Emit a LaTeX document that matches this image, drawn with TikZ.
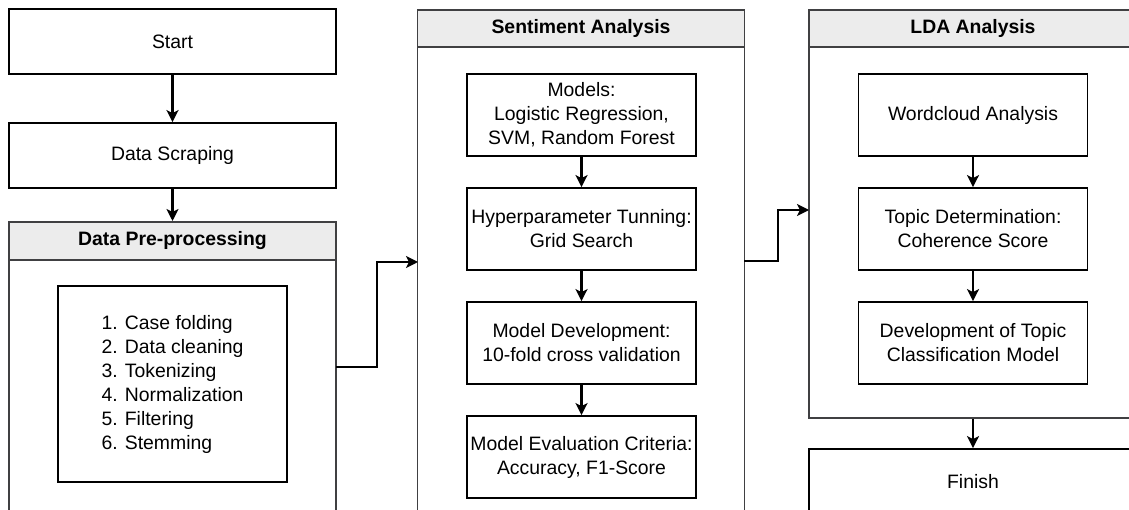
\documentclass[tikz,border=0pt]{standalone}
\usepackage{fontspec}
\setmainfont{Liberation Sans}
\usetikzlibrary{arrows.meta, positioning}

\definecolor{laneline}{RGB}{64,64,66}
\definecolor{headgray}{RGB}{236,236,236}

\begin{document}
\begin{tikzpicture}[x=1pt, y=-1pt, node distance=30.2pt,
  every node/.style={font=\fontsize{19.4}{24}\selectfont},
  stepbox/.style={draw=black, line width=1.8pt, minimum width=229pt, minimum height=82pt, align=center, inner sep=1pt},
  widebox/.style={draw=black, line width=1.8pt, minimum width=327pt, minimum height=65pt},
  lane/.style={draw=laneline, line width=1.8pt, minimum width=327pt, anchor=north},
  lanehead/.style={draw=laneline, fill=headgray, line width=1.8pt, minimum width=327pt, minimum height=37pt, anchor=north, font=\fontsize{19.4}{24}\selectfont\bfseries},
  flow/.style={-{Stealth[length=12pt, width=12pt, inset=3pt]}, line width=2.2pt}]
  \useasboundingbox (0,0) rectangle (1129,510);
  \clip (0,0) rectangle (1129,510);
  % left column
  \node[widebox] (start) at (172.5,41.5) {Start};
  \node[widebox] (scrap) at (172.5,155.5) {Data Scraping};
  \node[lane, minimum height=330pt] (prelane) at (172.5,221) {};
  \node[lanehead, minimum height=38pt] (prehead) at (prelane.north) {Data Pre-processing};
  \node[draw=black, line width=1.8pt, minimum width=229pt, minimum height=196pt, align=left] (steps) at (172.5,384)
    {1. Case folding\\2. Data cleaning\\3. Tokenizing\\4. Normalization\\5. Filtering\\6. Stemming};
  % sentiment lane
  \node[lane, minimum height=520pt] (sentlane) at (581,9) {};
  \node[lanehead] (senthead) at (sentlane.north) {Sentiment Analysis};
  \node[stepbox] (models) at (581.5,115) {Models:\\Logistic Regression,\\SVM, Random Forest};
  \node[stepbox, below=of models] (hyper) {Hyperparameter Tunning:\\Grid Search};
  \node[stepbox, below=of hyper] (modeldev) {Model Development:\\10-fold cross validation};
  \node[stepbox, below=of modeldev] (modeleval) {Model Evaluation Criteria:\\Accuracy, F1-Score};
  % LDA lane
  \node[lane, minimum height=408pt, minimum width=328pt] (ldalane) at (973,9) {};
  \node[lanehead, minimum width=328pt] (ldahead) at (ldalane.north) {LDA Analysis};
  \node[stepbox] (wordcloud) at (973,115) {Wordcloud Analysis};
  \node[stepbox, below=of wordcloud] (topicdet) {Topic Determination:\\Coherence Score};
  \node[stepbox, below=of topicdet] (topicdev) {Development of Topic\\Classification Model};
  \node[widebox, minimum width=328pt] (finish) at (973,481.5) {Finish};
  % connectors
  \foreach \a/\b in {start/scrap, scrap/prehead, models/hyper, hyper/modeldev, modeldev/modeleval,
                     wordcloud/topicdet, topicdet/topicdev, ldalane/finish}
    \draw[flow] (\a) -- (\b);
  \coordinate (preout) at (336,367);
  \coordinate (sentin) at (418,262);
  \coordinate (sentout) at (744,261);
  \coordinate (ldain) at (809,210);
  \draw[flow] (preout) -- ++(41,0) |- (sentin);
  \draw[flow] (sentout) -- ++(34,0) |- (ldain);
\end{tikzpicture}
\end{document}
